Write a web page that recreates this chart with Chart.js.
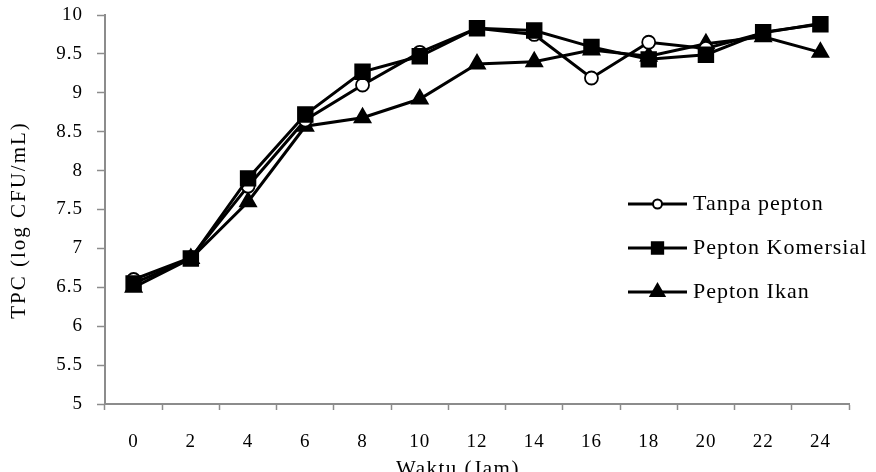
<!DOCTYPE html>
<html>
<head>
<meta charset="utf-8">
<script src="https://cdn.jsdelivr.net/npm/chart.js@4.4.0/dist/chart.umd.min.js"></script>
<style>
  html, body { margin: 0; padding: 0; background: #fff; }
  #wrap { width: 876px; height: 472px; }
</style>
</head>
<body>
<div id="wrap"><canvas id="grafik" width="876" height="472"></canvas></div>
<script>
// Data
const waktu = ['0', '2', '4', '6', '8', '10', '12', '14', '16', '18', '20', '22', '24'];
const tanpaPepton = [6.6, 6.88, 7.8, 8.65, 9.1, 9.52, 9.83, 9.75, 9.19, 9.65, 9.57, 9.77, 9.89];
const peptonKomersial = [6.55, 6.87, 7.9, 8.72, 9.27, 9.47, 9.83, 9.8, 9.59, 9.43, 9.49, 9.78, 9.88];
const peptonIkan = [6.5, 6.87, 7.6, 8.57, 8.68, 8.92, 9.37, 9.4, 9.55, 9.47, 9.63, 9.72, 9.52];
const yTicks = [5, 5.5, 6, 6.5, 7, 7.5, 8, 8.5, 9, 9.5, 10];

const fontSerif = "'Liberation Serif', 'DejaVu Serif', serif";
const abu = '#8c8c8c';

// jarak huruf agak lebar seperti gambar asli
const jarakHuruf = {
  id: 'jarakHuruf',
  beforeUpdate(chart) { chart.ctx.letterSpacing = '1px'; },
  beforeDraw(chart) { chart.ctx.letterSpacing = '1px'; }
};

// legenda di dalam area grafik + judul sumbu
const legendaDalam = {
  id: 'legendaDalam',
  afterDraw(chart) {
    const ctx = chart.ctx;
    const x0 = 628;
    const y0 = 204;
    chart.data.datasets.forEach((ds, i) => {
      const y = y0 + i * 44;
      ctx.save();
      ctx.strokeStyle = '#000';
      ctx.lineWidth = 3;
      ctx.beginPath();
      ctx.moveTo(x0, y);
      ctx.lineTo(x0 + 59, y);
      ctx.stroke();
      ctx.fillStyle = ds.pointStyle === 'circle' ? '#fff' : '#000';
      ctx.strokeStyle = '#000';
      ctx.lineWidth = 2;
      Chart.helpers.drawPoint(ctx, {
        pointStyle: ds.pointStyle,
        radius: ds.pointStyle === 'circle' ? 4.5 : 8,
        borderWidth: 2
      }, x0 + 29.5, y);
      ctx.fillStyle = '#000';
      ctx.font = '22px ' + fontSerif;
      ctx.letterSpacing = '1px';
      ctx.textBaseline = 'middle';
      ctx.textAlign = 'left';
      ctx.fillText(ds.label, x0 + 65, y);
      ctx.restore();
    });

    // judul sumbu
    ctx.save();
    ctx.fillStyle = '#000';
    ctx.font = '21px ' + fontSerif;
    ctx.letterSpacing = '1.5px';
    ctx.textAlign = 'center';
    ctx.textBaseline = 'top';
    ctx.fillText('Waktu (Jam)', 458, 459);
    ctx.translate(19, 220);
    ctx.rotate(-Math.PI / 2);
    ctx.textBaseline = 'middle';
    ctx.letterSpacing = '2px';
    ctx.fillText('TPC (log CFU/mL)', 0, 0);
    ctx.restore();
  }
};

const ctx = document.getElementById('grafik').getContext('2d');
new Chart(ctx, {
  type: 'line',
  data: {
    labels: waktu,
    datasets: [
      {
        label: 'Tanpa pepton',
        data: tanpaPepton,
        order: 1,
        borderColor: '#000',
        backgroundColor: '#fff',
        borderWidth: 3,
        pointStyle: 'circle',
        pointRadius: 6.5,
        pointBorderWidth: 1.8,
        pointBackgroundColor: '#fff',
        pointBorderColor: '#000'
      },
      {
        label: 'Pepton Komersial',
        data: peptonKomersial,
        order: 0,
        borderColor: '#000',
        backgroundColor: '#000',
        borderWidth: 3,
        pointStyle: 'rect',
        pointRadius: 9.5,
        pointBackgroundColor: '#000',
        pointBorderColor: '#000'
      },
      {
        label: 'Pepton Ikan',
        data: peptonIkan,
        order: 2,
        borderColor: '#000',
        backgroundColor: '#000',
        borderWidth: 3,
        pointStyle: 'triangle',
        pointRadius: 8,
        pointBackgroundColor: '#000',
        pointBorderColor: '#000'
      }
    ]
  },
  options: {
    responsive: false,
    animation: false,
    layout: { padding: { top: 15, right: 27, left: 0, bottom: 0 } },
    plugins: {
      legend: { display: false },
      tooltip: { enabled: false }
    },
    scales: {
      x: {
        offset: true,
        grid: { display: true, drawOnChartArea: false, offset: true, color: abu, tickLength: 6, tickWidth: 1.5 },
        border: { color: abu, width: 2 },
        ticks: { color: '#000', font: { family: fontSerif, size: 19 }, padding: 21, maxRotation: 0 },
        afterFit(scale) {
          scale.height = 68;
          scale.paddingLeft = 0;
          scale.paddingRight = 0;
        }
      },
      y: {
        min: 5,
        max: 10,
        afterBuildTicks(scale) { scale.ticks = yTicks.map(v => ({ value: v })); },
        grid: { display: true, drawOnChartArea: false, color: abu, tickLength: 8, tickWidth: 1.5 },
        border: { color: abu, width: 2 },
        ticks: {
          color: '#000',
          font: { family: fontSerif, size: 19 },
          padding: 14,
          callback: v => String(v)
        },
        afterFit(scale) {
          scale.width = 105;
          scale.paddingTop = 0;
          scale.paddingBottom = 0;
        }
      }
    }
  },
  plugins: [jarakHuruf, legendaDalam]
});
</script>
</body>
</html>
